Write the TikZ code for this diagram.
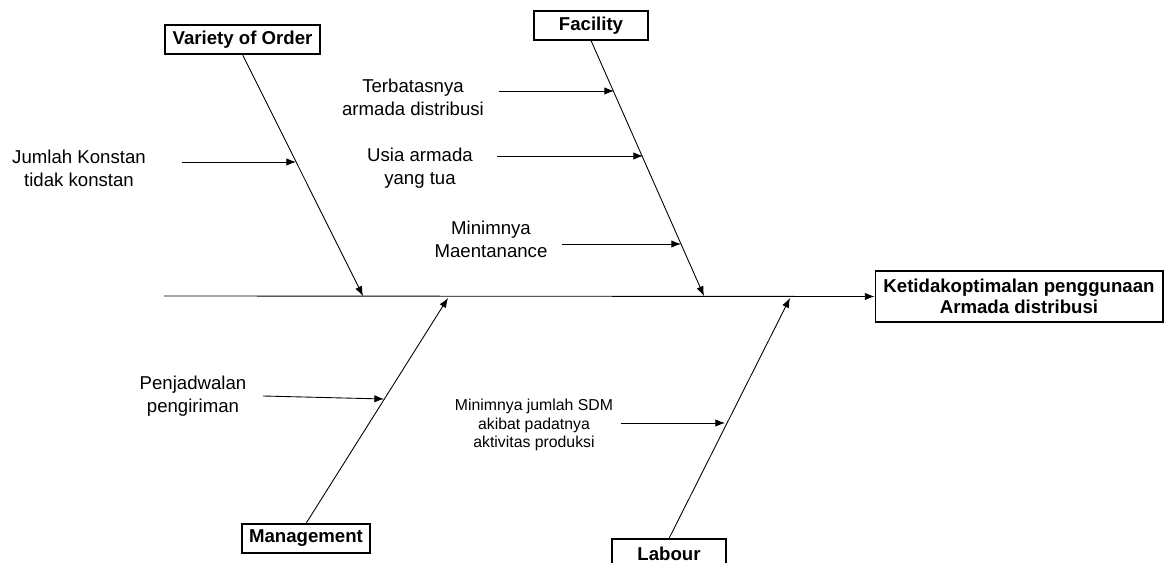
\documentclass[tikz,border=0pt]{standalone}
\usepackage{fontspec}
\setmainfont{Liberation Sans}
\usetikzlibrary{arrows.meta}
\begin{document}
\begin{tikzpicture}[x=0.02cm,y=-0.02cm]
	\tikzset{
		every node/.style={font=\fontsize{10.6}{13}\selectfont,align=center},
		% kotak kategori
		kotak/.style={draw,line width=0.6pt,font=\fontsize{10.6}{12}\selectfont\bfseries,minimum height=0.58cm,inner sep=0pt},
		% panah
		panah/.style={-{Latex[length=5.5pt,width=4.2pt]},line width=0.5pt},
		% teks kecil
		kecil/.style={font=\fontsize{9}{10.5}\selectfont},
	}
	\clip (0,0) rectangle (1164,563);
	% kotak
	\node[kotak,minimum width=3.1cm] (var) at (242.5,39.5) {Variety of Order};
	\node[kotak,minimum width=2.28cm] (fas) at (591,25.5) {Facility};
	\node[kotak,minimum width=2.56cm] (man) at (306,538.5) {Management};
	\node[kotak,minimum width=2.28cm] (lab) at (669,553.5) {Labour};
	\node[kotak,minimum width=5.76cm,minimum height=1.02cm] (akibat) at (1019,296.5) {Ketidakoptimalan penggunaan\\Armada distribusi};
	% tulang
	\coordinate (ekor) at (164,296);
	\coordinate (vs) at (363,296);
	\coordinate (fs) at (704,296);
	\coordinate (ms) at (448,298);
	\coordinate (ls) at (790,298);
	\draw[panah](ekor)--(akibat.west);
	\draw[panah](var.south)--(vs);
	\draw[panah](fas.south)--(fs);
	\draw[panah](man.north)--(ms);
	\draw[panah](lab.north)--(ls);
	% sebab
	\node (ljk) at (79,168.5) {Jumlah Konstan\\tidak konstan};
	\node (ltb) at (413,97.5) {Terbatasnya\\armada distribusi};
	\node (lus) at (420,168.5) {Usia armada\\yang tua};
	\node (lmn) at (491,239.5) {Minimnya\\Maentanance};
	\node (lpj) at (193,396.5) {Penjadwalan\\pengiriman};
	\node[kecil] (lsd) at (534,425) {Minimnya jumlah SDM\\akibat padatnya\\aktivitas produksi};
	%
	\coordinate (jk1) at (182,162); \coordinate (jk2) at (296,162);
	\coordinate (tb1) at (499,91); \coordinate (tb2) at (614,91);
	\coordinate (us1) at (497,156); \coordinate (us2) at (643,156);
	\coordinate (mn1) at (562,244); \coordinate (mn2) at (681,244);
	\coordinate (pj1) at (263,396); \coordinate (pj2) at (384,399);
	\coordinate (sd1) at (621,423); \coordinate (sd2) at (725,423);
	\draw[panah](jk1)--(jk2);
	\draw[panah](tb1)--(tb2);
	\draw[panah](us1)--(us2);
	\draw[panah](mn1)--(mn2);
	\draw[panah](pj1)--(pj2);
	\draw[panah](sd1)--(sd2);
\end{tikzpicture}
\end{document}
